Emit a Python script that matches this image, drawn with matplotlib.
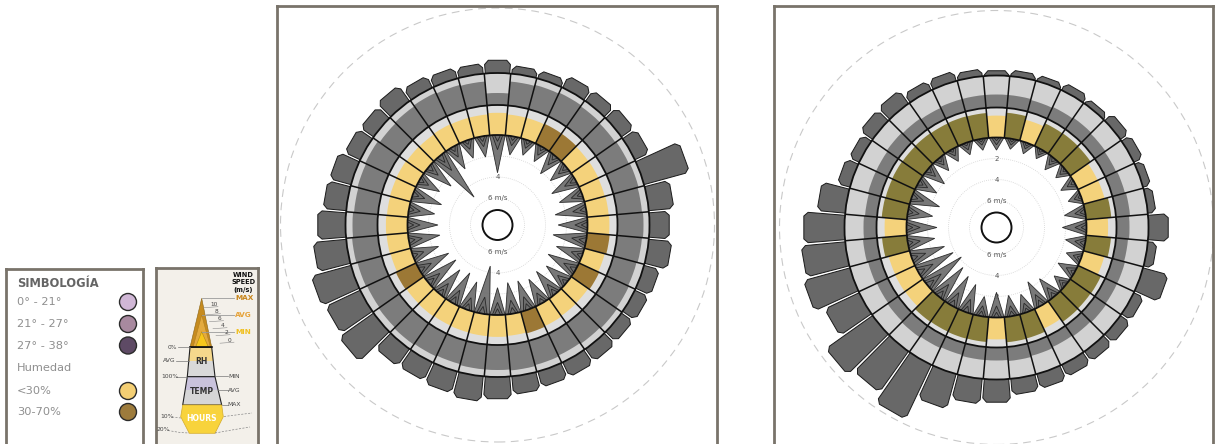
import numpy as np
import matplotlib
matplotlib.use("Agg")
import matplotlib.pyplot as plt
from matplotlib.patches import Wedge, Polygon, Circle

plt.rcParams['font.family'] = ['DejaVu Sans']

W, H = 1217, 444

############################################################################
# Datos: 36 sectores, sentido horario empezando arriba
############################################################################
n = 36

# rueda 1 (izquierda)
horas1 = [165, 160, 160, 165, 165, 167, 168, 199, 177, 172, 175, 168,
          167, 166, 167, 168, 168, 170, 174, 177, 174, 172, 173, 194,
          190, 193, 185, 180, 175, 174, 169, 168, 171, 165, 163, 162]
vmax1 = [3.6, 1.8, 1.5, 1.6, 2.2, 2.0, 2.6, 2.3, 3.0, 2.8, 3.2, 2.6,
         3.0, 2.5, 2.8, 2.6, 2.9, 3.0, 2.6, 4.6, 2.8, 3.3, 3.0, 3.4,
         3.2, 2.6, 3.0, 2.9, 2.5, 2.9, 2.2, 2.8, 5.1, 2.4, 1.8, 2.0]
vavg1 = [1.4, 0.9, 0.8, 0.9, 1.1, 1.0, 1.2, 1.1, 1.3, 1.2, 1.4, 1.1,
         1.3, 1.1, 1.2, 1.1, 1.3, 1.3, 1.2, 1.6, 1.2, 1.4, 1.3, 1.4,
         1.3, 1.1, 1.3, 1.2, 1.1, 1.2, 1.0, 1.2, 1.8, 1.1, 0.9, 1.0]
vmin1 = [0.6, 0.4, 0.4, 0.4, 0.5, 0.5, 0.6, 0.5, 0.6, 0.6, 0.7, 0.5,
         0.6, 0.5, 0.6, 0.5, 0.6, 0.6, 0.6, 0.7, 0.6, 0.7, 0.6, 0.7,
         0.6, 0.5, 0.6, 0.6, 0.5, 0.6, 0.5, 0.6, 0.8, 0.5, 0.4, 0.5]
hum1 = [74, 70, 70, 72, 72, 70, 71, 70, 72, 73, 75, 70,
        74, 69, 70, 72, 74, 71, 73, 72, 71, 70, 72, 71,
        74, 69, 71, 72, 70, 71, 72, 70, 69, 71, 70, 70]
cat1 = "sssmmsssssmsmsssmsssssssmsssssssssss"   # s: <30%, m: 30-70%
temp1 = [22, 34, 35, 36, 35, 34, 35, 36, 35, 36, 35, 34,
         35, 36, 35, 34, 35, 36, 35, 35, 34, 35, 36, 35,
         34, 35, 36, 35, 34, 35, 36, 34, 35, 36, 35, 34]

# rueda 2 (derecha)
horas2 = [157, 158, 158, 160, 158, 162, 162, 160, 160, 172, 161, 178,
          163, 164, 164, 165, 167, 168, 175, 177, 188, 212, 202, 209,
          190, 200, 196, 193, 180, 165, 163, 167, 168, 162, 162, 159]
vmax2 = [1.2, 1.0, 1.1, 1.0, 1.4, 1.2, 1.5, 1.3, 2.0, 2.3, 1.9, 1.5,
         1.8, 1.4, 2.2, 2.6, 1.8, 2.0, 2.4, 1.9, 2.8, 3.2, 3.6, 4.2,
         3.8, 3.3, 2.6, 2.9, 2.4, 2.8, 2.0, 2.1, 1.5, 1.3, 1.2, 1.1]
vavg2 = [0.7, 0.6, 0.6, 0.6, 0.8, 0.7, 0.8, 0.7, 1.0, 1.1, 1.0, 0.8,
         0.9, 0.8, 1.1, 1.2, 0.9, 1.0, 1.1, 1.0, 1.3, 1.4, 1.5, 1.7,
         1.6, 1.4, 1.2, 1.3, 1.1, 1.2, 1.0, 1.0, 0.8, 0.7, 0.7, 0.6]
vmin2 = [0.3, 0.3, 0.3, 0.3, 0.4, 0.3, 0.4, 0.3, 0.5, 0.5, 0.5, 0.4,
         0.4, 0.4, 0.5, 0.6, 0.4, 0.5, 0.5, 0.5, 0.6, 0.6, 0.7, 0.8,
         0.7, 0.6, 0.5, 0.6, 0.5, 0.6, 0.5, 0.5, 0.4, 0.3, 0.3, 0.3]
hum2 = [73, 84, 72, 83, 84, 83, 72, 73, 84, 72, 83, 72,
        84, 83, 84, 72, 83, 84, 73, 83, 84, 83, 84, 72,
        73, 72, 83, 73, 84, 83, 84, 83, 84, 83, 84, 83]
cat2 = "smsmmmssmsmsmmmsmmsmmmmsssmsmmmmmmmm"
temp2 = [23, 23, 22, 23, 24, 23, 22, 23, 24, 23, 22, 23,
         23, 24, 23, 22, 23, 24, 23, 23, 22, 23, 24, 23,
         22, 23, 24, 23, 22, 23, 23, 24, 23, 22, 23, 23]

etiq1 = [(6, "6 m/s"), (4, "4")]
etiq2 = [(6, "6 m/s"), (4, "4"), (2, "2")]

# leyenda
leyenda = ["0° - 21°", "21° - 27°", "27° - 38°", "Humedad", "<30%", "30-70%"]
ley_col = ["#d0b7d6", "#a8899f", "#5e4a65", None, "#f4cf74", "#9d7b3c"]

############################################################################
# Estilo / geometria
############################################################################
R0, R1, R2 = 90, 120, 152      # anillos
K = 10.5                        # px por m/s (hacia el centro)
T0, T1 = 10, 42                 # escala temperatura en el anillo
BORDE = "#79736a"
col_hum = {"s": "#f4d27b", "m": "#9c7835"}
col_hum2 = {"s": "#f4d27b", "m": "#877c3a"}


def pol(r, ang):
    return r * np.cos(ang), r * np.sin(ang)


def rueda(ax, horas, vmax, vavg, vmin, hum, cat, temp, etiq, colores):
    paso = 360.0 / n
    ax.add_patch(Circle((0, 0), 217, fill=False, ec="#c9c9c9", lw=0.8,
                        ls=(0, (7, 5)), zorder=0))
    for v in (2, 4, 6):
        ax.add_patch(Circle((0, 0), R0 - K * v, fill=False, ec="#d2d2d2",
                            lw=0.6, ls=(0, (1, 1.5)), zorder=1))
    for v, t in etiq:
        for s in (1, -1):
            ax.text(0, s * (R0 - K * v), t, ha="center", va="center",
                    fontsize=5, color="#555555", zorder=2)
    ax.add_patch(Circle((0, 0), 15, fill=False, ec="#111111", lw=1.4, zorder=6))

    for i in range(n):
        c = 90 - paso * i
        a1, a2 = c - paso / 2, c + paso / 2
        th = np.radians(c)

        # humedad
        rh = R0 + (R1 - R0) * hum[i] / 100.0
        ax.add_patch(Wedge((0, 0), R1, a1, a2, width=R1 - R0, fc="#dedede",
                           ec="none", zorder=4))
        ax.add_patch(Wedge((0, 0), rh, a1, a2, width=rh - R0,
                           fc=colores[cat[i]], ec="none", zorder=4))
        # temperatura
        rt = R1 + (temp[i] - T0) * (R2 - R1) / (T1 - T0)
        ax.add_patch(Wedge((0, 0), R2, a1, a2, width=R2 - R1, fc="#d2d2d2",
                           ec="none", zorder=4))
        ax.add_patch(Wedge((0, 0), rt, a1, a2, width=rt - R1, fc="#7c7c7c",
                           ec="none", zorder=4))
        # pestaña de horas
        ro = horas[i]
        a = np.radians(paso / 2 - 0.4)
        b = 4.0 / ro
        pts = [pol(R2 - 2, th - a), pol(ro - 4, th - a), pol(ro, th - a + b),
               pol(ro, th + a - b), pol(ro - 4, th + a), pol(R2 - 2, th + a)]
        ax.add_patch(Polygon(pts, closed=True, fc="#686868", ec="#1a1a1a",
                             lw=0.7, zorder=3.5))
        # viento: max, avg, min
        for v, f in ((vmax[i], 1.0), (vavg[i], 0.7), (vmin[i], 0.45)):
            rv = R0 - K * v
            hw = np.radians(paso / 2) * f
            pts = [pol(R0 + 1, th - hw), pol(rv, th), pol(R0 + 1, th + hw)]
            ax.add_patch(Polygon(pts, closed=True, fc="#6c6c6c", ec="#222222",
                                 lw=0.6, alpha=0.92, zorder=3))
        # linea radial
        x0, y0 = pol(R0, np.radians(a1))
        x1, y1 = pol(R2, np.radians(a1))
        ax.plot([x0, x1], [y0, y1], color="#111111", lw=1.1, zorder=6,
                solid_capstyle="butt")

    for r in (R0, R1, R2):
        ax.add_patch(Circle((0, 0), r, fill=False, ec="#111111", lw=1.3,
                            zorder=6))


def caja(ax, fondo="white"):
    ax.set_xticks([])
    ax.set_yticks([])
    ax.set_facecolor(fondo)
    for s in ("top", "left", "right"):
        ax.spines[s].set_color(BORDE)
        ax.spines[s].set_linewidth(2.0)
    ax.spines["bottom"].set_visible(False)


fig = plt.figure(figsize=(W / 100, H / 100), dpi=100)

# ruedas: ejes en pixeles, centro en (0, 0)
for (l, r, t, cx, cy), datos, cols in (
        ((277, 717, 6, 497.5, 225.0),
         (horas1, vmax1, vavg1, vmin1, hum1, cat1, temp1, etiq1), col_hum),
        ((774, 1213, 6, 996.5, 227.5),
         (horas2, vmax2, vavg2, vmin2, hum2, cat2, temp2, etiq2), col_hum2)):
    ax = fig.add_axes([l / W, 0, (r - l) / W, (H - t) / H])
    ax.set_xlim(l - cx, r - cx)
    ax.set_ylim(cy - H, cy - t)
    caja(ax)
    rueda(ax, *datos, cols)

############################################################################
# Leyenda 1: simbologia
############################################################################
lg = fig.add_axes([6 / W, 0, 137 / W, (H - 269) / H])
lg.set_xlim(6, 143)
lg.set_ylim(H, 269)
caja(lg)
lg.text(17, 283, "SIMBOLOGÍA", fontsize=8.3, weight="bold", color="#656565",
        va="center")
ys = [302, 324, 345.5, 368, 391, 412]
for y, txt, col in zip(ys, leyenda, ley_col):
    lg.text(17, y, txt, fontsize=8.2, color="#8f8f8f", va="center")
    if col:
        lg.add_patch(Circle((128, y), 8.5, fc=col, ec="#2b2b2b", lw=1.0))

############################################################################
# Leyenda 2: esquema
############################################################################
l2 = fig.add_axes([156 / W, 0, 102 / W, (H - 268) / H])
l2.set_xlim(156, 258)
l2.set_ylim(H, 268)
caja(l2, "#f3f0ea")

for k, y in enumerate((275, 282.5, 290)):
    l2.text(243.5, y, ["WIND", "SPEED", "(m/s)"][k], fontsize=4.8,
            weight="bold", ha="center", va="center", color="#111111")

l2.add_patch(Polygon([(201.7, 298.3), (190, 347.3), (211.7, 347.3)],
                     fc="#c68b1f", ec="#8a6414", lw=0.4))
l2.add_patch(Polygon([(201.7, 315), (193, 347.3), (210.5, 347.3)],
                     fc="#e3aa3e", ec="#b07f20", lw=0.4))
l2.add_patch(Polygon([(201.7, 331.7), (195.5, 347.3), (208.5, 347.3)],
                     fc="#f7c71c", ec="#b08a10", lw=0.4))
for y, t, c in ((298.3, "MAX", "#c8861c"), (315, "AVG", "#e6a33a"),
                (331.7, "MIN", "#f0c020")):
    l2.plot([201.7, 234], [y, y], color="#9a9a9a", lw=0.6)
    l2.text(235, y, t, fontsize=5.2, weight="bold", color=c, va="center")
for t, x, y in (("10", 214, 304.5), ("8", 216.5, 311.5), ("6", 219.5, 318.5),
                ("4", 223, 325.5), ("2", 226, 332.5), ("0", 230, 340)):
    l2.text(x, y, t, fontsize=4.2, color="#444444", ha="center", va="center")
    l2.plot([x - 10, x + 4], [y + 3.2, y + 2.2], color="#8a8a8a", lw=0.4)

# RH
l2.add_patch(Polygon([(190, 347.3), (211.7, 347.3), (213.2, 361), (188.7, 361)],
                     fc="#f5d88c", ec="none"))
l2.add_patch(Polygon([(188.7, 361), (213.2, 361), (215, 376.7), (187.3, 376.7)],
                     fc="#d9d9d9", ec="none"))
l2.add_patch(Polygon([(190, 347.3), (211.7, 347.3), (215, 376.7), (187.3, 376.7)],
                     fill=False, ec="#222222", lw=0.8))
l2.plot([190, 211.7], [347.3, 347.3], color="#111111", lw=1.2)
l2.text(201.7, 361.5, "RH", fontsize=5.5, weight="bold", ha="center",
        va="center", color="#333333")
for t, x, y, x2 in (("0%", 172, 347.3, 190), ("AVG", 169.5, 361, 188.7),
                    ("100%", 170, 376.7, 187.3)):
    l2.text(x, y, t, fontsize=4.3, ha="center", va="center", color="#444444")
    l2.plot([x + 6, x2], [y, y], color="#777777", lw=0.5)

# TEMP
l2.add_patch(Polygon([(187.3, 376.7), (215, 376.7), (218.3, 390), (185, 390)],
                     fc="#c9c2dc", ec="none"))
l2.add_patch(Polygon([(185, 390), (218.3, 390), (221.7, 405), (182.7, 405)],
                     fc="#d6d6d6", ec="none"))
l2.add_patch(Polygon([(187.3, 376.7), (215, 376.7), (221.7, 405), (182.7, 405)],
                     fill=False, ec="#222222", lw=0.8))
l2.text(201.7, 391, "TEMP", fontsize=5.5, weight="bold", ha="center",
        va="center", color="#333333")
for t, y, x1 in (("MIN", 376.5, 215), ("AVG", 390, 218.3), ("MAX", 404.5, 221.7)):
    l2.plot([x1, 228], [y, y], color="#777777", lw=0.5)
    l2.text(234, y, t, fontsize=4.3, ha="center", va="center", color="#444444")

# HOURS
l2.add_patch(Polygon([(182.7, 405), (221.7, 405), (223.3, 416.7), (215, 433.3),
                      (189.3, 433.3), (180.7, 416.7)],
                     fc="#f8d33c", ec="#d4ab2a", lw=0.5))
l2.text(202, 418, "HOURS", fontsize=5.5, weight="bold", ha="center",
        va="center", color="white")
l2.text(167, 416, "10%", fontsize=4.3, ha="center", va="center", color="#444444")
l2.text(163, 429.5, "20%", fontsize=4.3, ha="center", va="center", color="#444444")
l2.plot([172, 181], [417, 418], color="#888888", lw=0.5, ls=(0, (3, 2)))
l2.plot([224, 240, 252], [416.5, 414.5, 413], color="#888888", lw=0.5,
        ls=(0, (3, 2)))
l2.plot([168, 180, 189], [430.5, 432.5, 433], color="#888888", lw=0.5,
        ls=(0, (3, 2)))
l2.plot([215, 232, 250], [433, 430, 427], color="#888888", lw=0.5,
        ls=(0, (3, 2)))

fig.savefig("out.png", dpi=100)
